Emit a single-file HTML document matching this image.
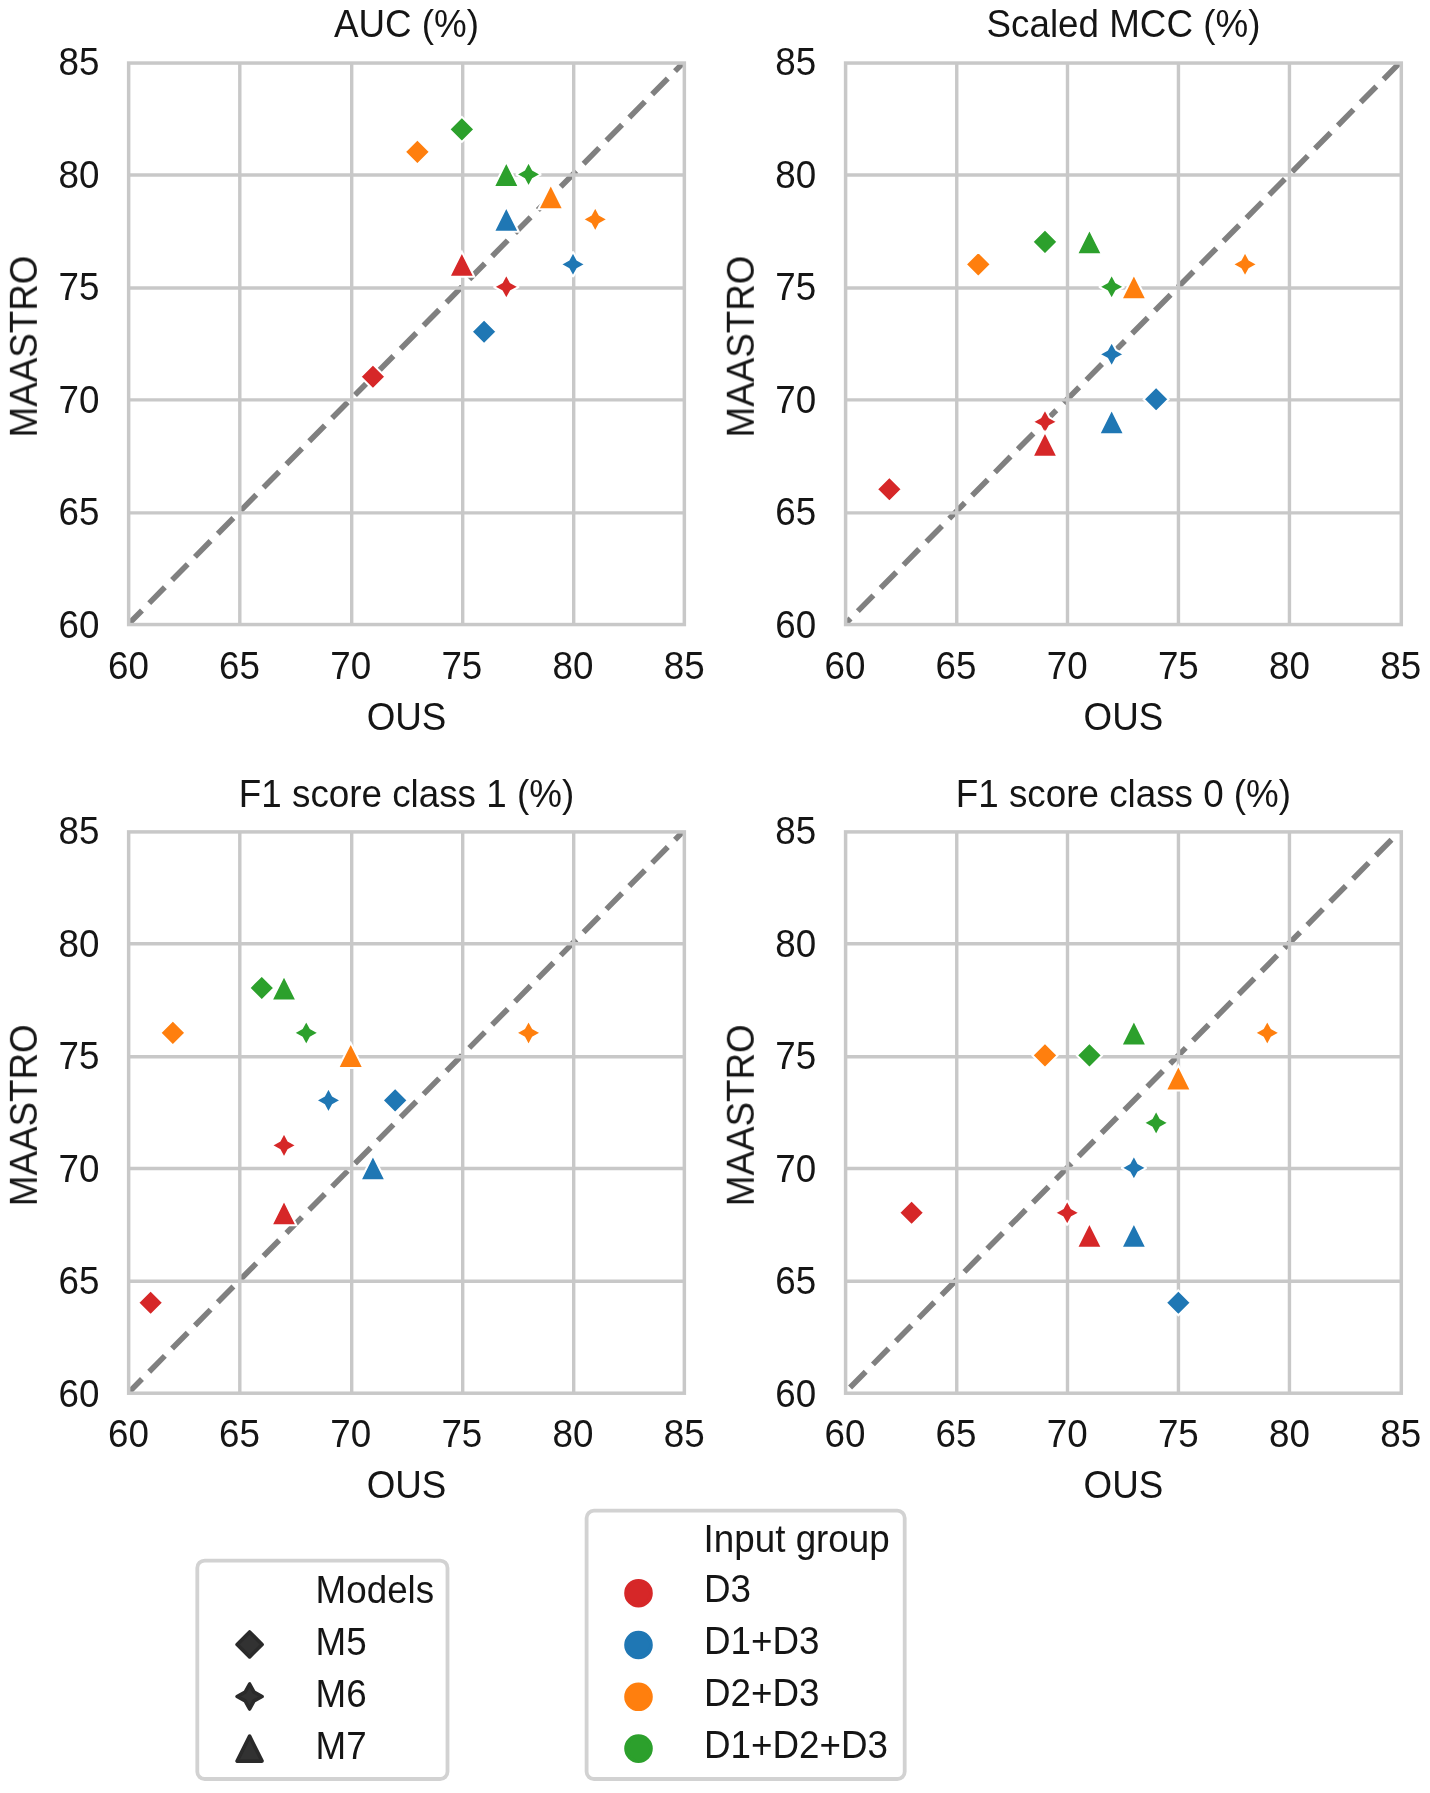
<!DOCTYPE html>
<html><head><meta charset="utf-8"><title>Scatter comparison OUS vs MAASTRO</title><style>html,body{margin:0;padding:0;background:#fff;}svg{display:block;}text{font-family:"Liberation Sans",sans-serif;fill:#151515;font-size:36.80px;}</style></head><body>
<svg width="1430" height="1793" viewBox="0 0 1430 1793">
<defs><filter id="gs" x="0" y="0" width="1" height="1"><feColorMatrix type="saturate" values="0"/></filter></defs>
<rect width="1430" height="1793" fill="#fff"/>
<clipPath id="c0"><rect x="128.65" y="63.05" width="555.70" height="561.50"/></clipPath>
<line clip-path="url(#c0)" x1="103.50" y1="649.37" x2="687.66" y2="58.37" stroke="#808080" stroke-width="5.6" stroke-dasharray="22.2 10.32"/>
<g stroke="#c8c8c8" stroke-width="3.40"><line x1="239.80" y1="63.05" x2="239.80" y2="624.55"/><line x1="128.65" y1="175.00" x2="684.35" y2="175.00"/><line x1="351.70" y1="63.05" x2="351.70" y2="624.55"/><line x1="128.65" y1="287.95" x2="684.35" y2="287.95"/><line x1="462.70" y1="63.05" x2="462.70" y2="624.55"/><line x1="128.65" y1="399.90" x2="684.35" y2="399.90"/><line x1="573.70" y1="63.05" x2="573.70" y2="624.55"/><line x1="128.65" y1="512.85" x2="684.35" y2="512.85"/></g>
<rect x="128.65" y="63.05" width="555.70" height="561.50" fill="none" stroke="#c8c8c8" stroke-width="3.50"/>
<path d="M461.85,116.90 L449.35,129.40 L461.85,141.90 L474.35,129.40Z" fill="#2ca02c" stroke="#fff" stroke-width="2.00" stroke-linejoin="miter"/>
<path d="M417.39,139.39 L404.89,151.89 L417.39,164.39 L429.89,151.89Z" fill="#ff7f0e" stroke="#fff" stroke-width="2.00" stroke-linejoin="miter"/>
<path d="M506.31,161.88 L493.81,186.88 L518.81,186.88Z" fill="#2ca02c" stroke="#fff" stroke-width="2.00" stroke-linejoin="miter"/>
<path d="M528.54,161.88 L524.12,169.96 L516.04,174.38 L524.12,178.80 L528.54,186.88 L532.96,178.80 L541.04,174.38 L532.96,169.96Z" fill="#2ca02c" stroke="#fff" stroke-width="2.00" stroke-linejoin="bevel"/>
<path d="M550.77,184.37 L538.27,209.37 L563.27,209.37Z" fill="#ff7f0e" stroke="#fff" stroke-width="2.00" stroke-linejoin="miter"/>
<path d="M595.23,206.86 L590.81,214.94 L582.73,219.36 L590.81,223.78 L595.23,231.86 L599.65,223.78 L607.73,219.36 L599.65,214.94Z" fill="#ff7f0e" stroke="#fff" stroke-width="2.00" stroke-linejoin="bevel"/>
<path d="M506.31,206.86 L493.81,231.86 L518.81,231.86Z" fill="#1f77b4" stroke="#fff" stroke-width="2.00" stroke-linejoin="miter"/>
<path d="M461.85,251.84 L449.35,276.84 L474.35,276.84Z" fill="#d62728" stroke="#fff" stroke-width="2.00" stroke-linejoin="miter"/>
<path d="M573.00,251.84 L568.58,259.92 L560.50,264.34 L568.58,268.76 L573.00,276.84 L577.42,268.76 L585.50,264.34 L577.42,259.92Z" fill="#1f77b4" stroke="#fff" stroke-width="2.00" stroke-linejoin="bevel"/>
<path d="M506.31,274.33 L501.89,282.41 L493.81,286.83 L501.89,291.25 L506.31,299.33 L510.73,291.25 L518.81,286.83 L510.73,282.41Z" fill="#d62728" stroke="#fff" stroke-width="2.00" stroke-linejoin="bevel"/>
<path d="M484.08,319.31 L471.58,331.81 L484.08,344.31 L496.58,331.81Z" fill="#1f77b4" stroke="#fff" stroke-width="2.00" stroke-linejoin="miter"/>
<path d="M372.93,364.29 L360.43,376.79 L372.93,389.29 L385.43,376.79Z" fill="#d62728" stroke="#fff" stroke-width="2.00" stroke-linejoin="miter"/>
<clipPath id="c1"><rect x="845.60" y="63.05" width="555.70" height="561.50"/></clipPath>
<line clip-path="url(#c1)" x1="812.08" y1="657.39" x2="1404.16" y2="58.37" stroke="#808080" stroke-width="5.6" stroke-dasharray="22.2 10.32"/>
<g stroke="#c8c8c8" stroke-width="3.40"><line x1="956.75" y1="63.05" x2="956.75" y2="624.55"/><line x1="845.60" y1="175.00" x2="1401.30" y2="175.00"/><line x1="1067.50" y1="63.05" x2="1067.50" y2="624.55"/><line x1="845.60" y1="287.95" x2="1401.30" y2="287.95"/><line x1="1178.45" y1="63.05" x2="1178.45" y2="624.55"/><line x1="845.60" y1="399.90" x2="1401.30" y2="399.90"/><line x1="1289.45" y1="63.05" x2="1289.45" y2="624.55"/><line x1="845.60" y1="512.85" x2="1401.30" y2="512.85"/></g>
<rect x="845.60" y="63.05" width="555.70" height="561.50" fill="none" stroke="#c8c8c8" stroke-width="3.50"/>
<path d="M978.28,251.84 L965.78,264.34 L978.28,276.84 L990.78,264.34Z" fill="#ff7f0e" stroke="#fff" stroke-width="2.00" stroke-linejoin="miter"/>
<path d="M1044.97,229.35 L1032.47,241.85 L1044.97,254.35 L1057.47,241.85Z" fill="#2ca02c" stroke="#fff" stroke-width="2.00" stroke-linejoin="miter"/>
<path d="M1089.43,229.35 L1076.93,254.35 L1101.93,254.35Z" fill="#2ca02c" stroke="#fff" stroke-width="2.00" stroke-linejoin="miter"/>
<path d="M1111.66,274.33 L1107.24,282.41 L1099.16,286.83 L1107.24,291.25 L1111.66,299.33 L1116.08,291.25 L1124.16,286.83 L1116.08,282.41Z" fill="#2ca02c" stroke="#fff" stroke-width="2.00" stroke-linejoin="bevel"/>
<path d="M1133.89,274.33 L1121.39,299.33 L1146.39,299.33Z" fill="#ff7f0e" stroke="#fff" stroke-width="2.00" stroke-linejoin="miter"/>
<path d="M1245.04,251.84 L1240.62,259.92 L1232.54,264.34 L1240.62,268.76 L1245.04,276.84 L1249.46,268.76 L1257.54,264.34 L1249.46,259.92Z" fill="#ff7f0e" stroke="#fff" stroke-width="2.00" stroke-linejoin="bevel"/>
<path d="M1111.66,341.80 L1107.24,349.88 L1099.16,354.30 L1107.24,358.72 L1111.66,366.80 L1116.08,358.72 L1124.16,354.30 L1116.08,349.88Z" fill="#1f77b4" stroke="#fff" stroke-width="2.00" stroke-linejoin="bevel"/>
<path d="M1156.12,386.78 L1143.62,399.28 L1156.12,411.78 L1168.62,399.28Z" fill="#1f77b4" stroke="#fff" stroke-width="2.00" stroke-linejoin="miter"/>
<path d="M1111.66,409.27 L1099.16,434.27 L1124.16,434.27Z" fill="#1f77b4" stroke="#fff" stroke-width="2.00" stroke-linejoin="miter"/>
<path d="M1044.97,409.27 L1040.55,417.35 L1032.47,421.77 L1040.55,426.19 L1044.97,434.27 L1049.39,426.19 L1057.47,421.77 L1049.39,417.35Z" fill="#d62728" stroke="#fff" stroke-width="2.00" stroke-linejoin="bevel"/>
<path d="M1044.97,431.76 L1032.47,456.76 L1057.47,456.76Z" fill="#d62728" stroke="#fff" stroke-width="2.00" stroke-linejoin="miter"/>
<path d="M889.36,476.74 L876.86,489.24 L889.36,501.74 L901.86,489.24Z" fill="#d62728" stroke="#fff" stroke-width="2.00" stroke-linejoin="miter"/>
<clipPath id="c2"><rect x="128.65" y="831.90" width="555.70" height="561.30"/></clipPath>
<line clip-path="url(#c2)" x1="103.50" y1="1417.94" x2="687.66" y2="826.94" stroke="#808080" stroke-width="5.6" stroke-dasharray="22.2 10.32"/>
<g stroke="#c8c8c8" stroke-width="3.40"><line x1="239.80" y1="831.90" x2="239.80" y2="1393.20"/><line x1="128.65" y1="943.80" x2="684.35" y2="943.80"/><line x1="351.70" y1="831.90" x2="351.70" y2="1393.20"/><line x1="128.65" y1="1056.80" x2="684.35" y2="1056.80"/><line x1="462.70" y1="831.90" x2="462.70" y2="1393.20"/><line x1="128.65" y1="1168.45" x2="684.35" y2="1168.45"/><line x1="573.70" y1="831.90" x2="573.70" y2="1393.20"/><line x1="128.65" y1="1281.20" x2="684.35" y2="1281.20"/></g>
<rect x="128.65" y="831.90" width="555.70" height="561.30" fill="none" stroke="#c8c8c8" stroke-width="3.50"/>
<path d="M261.78,975.43 L249.28,987.93 L261.78,1000.43 L274.28,987.93Z" fill="#2ca02c" stroke="#fff" stroke-width="2.00" stroke-linejoin="miter"/>
<path d="M284.01,975.43 L271.51,1000.43 L296.51,1000.43Z" fill="#2ca02c" stroke="#fff" stroke-width="2.00" stroke-linejoin="miter"/>
<path d="M172.86,1020.41 L160.36,1032.91 L172.86,1045.41 L185.36,1032.91Z" fill="#ff7f0e" stroke="#fff" stroke-width="2.00" stroke-linejoin="miter"/>
<path d="M306.24,1020.41 L301.82,1028.49 L293.74,1032.91 L301.82,1037.33 L306.24,1045.41 L310.66,1037.33 L318.74,1032.91 L310.66,1028.49Z" fill="#2ca02c" stroke="#fff" stroke-width="2.00" stroke-linejoin="bevel"/>
<path d="M350.70,1042.90 L338.20,1067.90 L363.20,1067.90Z" fill="#ff7f0e" stroke="#fff" stroke-width="2.00" stroke-linejoin="miter"/>
<path d="M528.54,1020.41 L524.12,1028.49 L516.04,1032.91 L524.12,1037.33 L528.54,1045.41 L532.96,1037.33 L541.04,1032.91 L532.96,1028.49Z" fill="#ff7f0e" stroke="#fff" stroke-width="2.00" stroke-linejoin="bevel"/>
<path d="M328.47,1087.88 L324.05,1095.96 L315.97,1100.38 L324.05,1104.80 L328.47,1112.88 L332.89,1104.80 L340.97,1100.38 L332.89,1095.96Z" fill="#1f77b4" stroke="#fff" stroke-width="2.00" stroke-linejoin="bevel"/>
<path d="M395.16,1087.88 L382.66,1100.38 L395.16,1112.88 L407.66,1100.38Z" fill="#1f77b4" stroke="#fff" stroke-width="2.00" stroke-linejoin="miter"/>
<path d="M284.01,1132.86 L279.59,1140.94 L271.51,1145.36 L279.59,1149.78 L284.01,1157.86 L288.43,1149.78 L296.51,1145.36 L288.43,1140.94Z" fill="#d62728" stroke="#fff" stroke-width="2.00" stroke-linejoin="bevel"/>
<path d="M372.93,1155.35 L360.43,1180.35 L385.43,1180.35Z" fill="#1f77b4" stroke="#fff" stroke-width="2.00" stroke-linejoin="miter"/>
<path d="M284.01,1200.33 L271.51,1225.33 L296.51,1225.33Z" fill="#d62728" stroke="#fff" stroke-width="2.00" stroke-linejoin="miter"/>
<path d="M150.63,1290.29 L138.13,1302.79 L150.63,1315.29 L163.13,1302.79Z" fill="#d62728" stroke="#fff" stroke-width="2.00" stroke-linejoin="miter"/>
<clipPath id="c3"><rect x="845.60" y="831.90" width="555.70" height="561.30"/></clipPath>
<line clip-path="url(#c3)" x1="827.24" y1="1410.62" x2="1404.16" y2="826.94" stroke="#808080" stroke-width="5.6" stroke-dasharray="22.2 10.32"/>
<g stroke="#c8c8c8" stroke-width="3.40"><line x1="956.75" y1="831.90" x2="956.75" y2="1393.20"/><line x1="845.60" y1="943.80" x2="1401.30" y2="943.80"/><line x1="1067.50" y1="831.90" x2="1067.50" y2="1393.20"/><line x1="845.60" y1="1056.80" x2="1401.30" y2="1056.80"/><line x1="1178.45" y1="831.90" x2="1178.45" y2="1393.20"/><line x1="845.60" y1="1168.45" x2="1401.30" y2="1168.45"/><line x1="1289.45" y1="831.90" x2="1289.45" y2="1393.20"/><line x1="845.60" y1="1281.20" x2="1401.30" y2="1281.20"/></g>
<rect x="845.60" y="831.90" width="555.70" height="561.30" fill="none" stroke="#c8c8c8" stroke-width="3.50"/>
<path d="M1044.97,1042.90 L1032.47,1055.40 L1044.97,1067.90 L1057.47,1055.40Z" fill="#ff7f0e" stroke="#fff" stroke-width="2.00" stroke-linejoin="miter"/>
<path d="M1089.43,1042.90 L1076.93,1055.40 L1089.43,1067.90 L1101.93,1055.40Z" fill="#2ca02c" stroke="#fff" stroke-width="2.00" stroke-linejoin="miter"/>
<path d="M1133.89,1020.41 L1121.39,1045.41 L1146.39,1045.41Z" fill="#2ca02c" stroke="#fff" stroke-width="2.00" stroke-linejoin="miter"/>
<path d="M1267.27,1020.41 L1262.85,1028.49 L1254.77,1032.91 L1262.85,1037.33 L1267.27,1045.41 L1271.69,1037.33 L1279.77,1032.91 L1271.69,1028.49Z" fill="#ff7f0e" stroke="#fff" stroke-width="2.00" stroke-linejoin="bevel"/>
<path d="M1178.35,1065.39 L1165.85,1090.39 L1190.85,1090.39Z" fill="#ff7f0e" stroke="#fff" stroke-width="2.00" stroke-linejoin="miter"/>
<path d="M1156.12,1110.37 L1151.70,1118.45 L1143.62,1122.87 L1151.70,1127.29 L1156.12,1135.37 L1160.54,1127.29 L1168.62,1122.87 L1160.54,1118.45Z" fill="#2ca02c" stroke="#fff" stroke-width="2.00" stroke-linejoin="bevel"/>
<path d="M1133.89,1155.35 L1129.47,1163.43 L1121.39,1167.85 L1129.47,1172.27 L1133.89,1180.35 L1138.31,1172.27 L1146.39,1167.85 L1138.31,1163.43Z" fill="#1f77b4" stroke="#fff" stroke-width="2.00" stroke-linejoin="bevel"/>
<path d="M911.59,1200.33 L899.09,1212.83 L911.59,1225.33 L924.09,1212.83Z" fill="#d62728" stroke="#fff" stroke-width="2.00" stroke-linejoin="miter"/>
<path d="M1067.20,1200.33 L1062.78,1208.41 L1054.70,1212.83 L1062.78,1217.25 L1067.20,1225.33 L1071.62,1217.25 L1079.70,1212.83 L1071.62,1208.41Z" fill="#d62728" stroke="#fff" stroke-width="2.00" stroke-linejoin="bevel"/>
<path d="M1089.43,1222.82 L1076.93,1247.82 L1101.93,1247.82Z" fill="#d62728" stroke="#fff" stroke-width="2.00" stroke-linejoin="miter"/>
<path d="M1133.89,1222.82 L1121.39,1247.82 L1146.39,1247.82Z" fill="#1f77b4" stroke="#fff" stroke-width="2.00" stroke-linejoin="miter"/>
<path d="M1178.35,1290.29 L1165.85,1302.79 L1178.35,1315.29 L1190.85,1302.79Z" fill="#1f77b4" stroke="#fff" stroke-width="2.00" stroke-linejoin="miter"/>
<rect x="197.30" y="1560.55" width="250.20" height="218.45" rx="7.36" ry="7.36" fill="#fff" stroke="#d2d2d2" stroke-width="3.8"/>
<rect x="586.60" y="1510.70" width="318.10" height="268.30" rx="7.36" ry="7.36" fill="#fff" stroke="#d2d2d2" stroke-width="3.8"/>
<path d="M249.60,1631.90 L237.10,1644.40 L249.60,1656.90 L262.10,1644.40Z" fill="#323232" stroke="#2a2a2a" stroke-width="3.6" stroke-linejoin="round"/>
<path d="M249.60,1684.00 L245.18,1692.08 L237.10,1696.50 L245.18,1700.92 L249.60,1709.00 L254.02,1700.92 L262.10,1696.50 L254.02,1692.08Z" fill="#323232" stroke="#2a2a2a" stroke-width="3.6" stroke-linejoin="round"/>
<path d="M249.60,1736.10 L237.10,1761.10 L262.10,1761.10Z" fill="#323232" stroke="#2a2a2a" stroke-width="3.6" stroke-linejoin="round"/>
<circle cx="638.5" cy="1593.20" r="12.50" fill="#d62728" stroke="#d62728" stroke-width="3.6"/>
<circle cx="638.5" cy="1645.00" r="12.50" fill="#1f77b4" stroke="#1f77b4" stroke-width="3.6"/>
<circle cx="638.5" cy="1696.80" r="12.50" fill="#ff7f0e" stroke="#ff7f0e" stroke-width="3.6"/>
<circle cx="638.5" cy="1748.60" r="12.50" fill="#2ca02c" stroke="#2ca02c" stroke-width="3.6"/>
<g filter="url(#gs)"><text transform="translate(128.40,678.55) scale(1,1.035)" text-anchor="middle">60</text>
<text transform="translate(99.35,637.81) scale(1,1.035)" text-anchor="end">60</text>
<text transform="translate(239.55,678.55) scale(1,1.035)" text-anchor="middle">65</text>
<text transform="translate(99.35,525.23) scale(1,1.035)" text-anchor="end">65</text>
<text transform="translate(350.70,678.55) scale(1,1.035)" text-anchor="middle">70</text>
<text transform="translate(99.35,412.66) scale(1,1.035)" text-anchor="end">70</text>
<text transform="translate(461.85,678.55) scale(1,1.035)" text-anchor="middle">75</text>
<text transform="translate(99.35,300.08) scale(1,1.035)" text-anchor="end">75</text>
<text transform="translate(573.00,678.55) scale(1,1.035)" text-anchor="middle">80</text>
<text transform="translate(99.35,187.50) scale(1,1.035)" text-anchor="end">80</text>
<text transform="translate(684.15,678.55) scale(1,1.035)" text-anchor="middle">85</text>
<text transform="translate(99.35,74.93) scale(1,1.035)" text-anchor="end">85</text>
<text transform="translate(406.50,36.80) scale(1,1.035)" text-anchor="middle">AUC (%)</text>
<text transform="translate(406.50,729.65) scale(1,1.035)" text-anchor="middle">OUS</text>
<text transform="translate(37.05,346.50) rotate(-90) scale(1,1.035)" text-anchor="middle">MAASTRO</text>
<text transform="translate(844.90,678.55) scale(1,1.035)" text-anchor="middle">60</text>
<text transform="translate(816.30,637.81) scale(1,1.035)" text-anchor="end">60</text>
<text transform="translate(956.05,678.55) scale(1,1.035)" text-anchor="middle">65</text>
<text transform="translate(816.30,525.23) scale(1,1.035)" text-anchor="end">65</text>
<text transform="translate(1067.20,678.55) scale(1,1.035)" text-anchor="middle">70</text>
<text transform="translate(816.30,412.66) scale(1,1.035)" text-anchor="end">70</text>
<text transform="translate(1178.35,678.55) scale(1,1.035)" text-anchor="middle">75</text>
<text transform="translate(816.30,300.08) scale(1,1.035)" text-anchor="end">75</text>
<text transform="translate(1289.50,678.55) scale(1,1.035)" text-anchor="middle">80</text>
<text transform="translate(816.30,187.50) scale(1,1.035)" text-anchor="end">80</text>
<text transform="translate(1400.65,678.55) scale(1,1.035)" text-anchor="middle">85</text>
<text transform="translate(816.30,74.93) scale(1,1.035)" text-anchor="end">85</text>
<text transform="translate(1123.45,36.80) scale(1,1.035)" text-anchor="middle">Scaled MCC (%)</text>
<text transform="translate(1123.45,729.65) scale(1,1.035)" text-anchor="middle">OUS</text>
<text transform="translate(754.00,346.50) rotate(-90) scale(1,1.035)" text-anchor="middle">MAASTRO</text>
<text transform="translate(128.40,1447.20) scale(1,1.035)" text-anchor="middle">60</text>
<text transform="translate(99.35,1406.80) scale(1,1.035)" text-anchor="end">60</text>
<text transform="translate(239.55,1447.20) scale(1,1.035)" text-anchor="middle">65</text>
<text transform="translate(99.35,1294.23) scale(1,1.035)" text-anchor="end">65</text>
<text transform="translate(350.70,1447.20) scale(1,1.035)" text-anchor="middle">70</text>
<text transform="translate(99.35,1181.65) scale(1,1.035)" text-anchor="end">70</text>
<text transform="translate(461.85,1447.20) scale(1,1.035)" text-anchor="middle">75</text>
<text transform="translate(99.35,1069.08) scale(1,1.035)" text-anchor="end">75</text>
<text transform="translate(573.00,1447.20) scale(1,1.035)" text-anchor="middle">80</text>
<text transform="translate(99.35,956.50) scale(1,1.035)" text-anchor="end">80</text>
<text transform="translate(684.15,1447.20) scale(1,1.035)" text-anchor="middle">85</text>
<text transform="translate(99.35,843.93) scale(1,1.035)" text-anchor="end">85</text>
<text transform="translate(406.50,807.00) scale(1,1.035)" text-anchor="middle">F1 score class 1 (%)</text>
<text transform="translate(406.50,1498.30) scale(1,1.035)" text-anchor="middle">OUS</text>
<text transform="translate(37.05,1115.25) rotate(-90) scale(1,1.035)" text-anchor="middle">MAASTRO</text>
<text transform="translate(844.90,1447.20) scale(1,1.035)" text-anchor="middle">60</text>
<text transform="translate(816.30,1406.80) scale(1,1.035)" text-anchor="end">60</text>
<text transform="translate(956.05,1447.20) scale(1,1.035)" text-anchor="middle">65</text>
<text transform="translate(816.30,1294.23) scale(1,1.035)" text-anchor="end">65</text>
<text transform="translate(1067.20,1447.20) scale(1,1.035)" text-anchor="middle">70</text>
<text transform="translate(816.30,1181.65) scale(1,1.035)" text-anchor="end">70</text>
<text transform="translate(1178.35,1447.20) scale(1,1.035)" text-anchor="middle">75</text>
<text transform="translate(816.30,1069.08) scale(1,1.035)" text-anchor="end">75</text>
<text transform="translate(1289.50,1447.20) scale(1,1.035)" text-anchor="middle">80</text>
<text transform="translate(816.30,956.50) scale(1,1.035)" text-anchor="end">80</text>
<text transform="translate(1400.65,1447.20) scale(1,1.035)" text-anchor="middle">85</text>
<text transform="translate(816.30,843.93) scale(1,1.035)" text-anchor="end">85</text>
<text transform="translate(1123.45,807.00) scale(1,1.035)" text-anchor="middle">F1 score class 0 (%)</text>
<text transform="translate(1123.45,1498.30) scale(1,1.035)" text-anchor="middle">OUS</text>
<text transform="translate(754.00,1115.25) rotate(-90) scale(1,1.035)" text-anchor="middle">MAASTRO</text>
<text transform="translate(315.58,1602.50) scale(1,1.035)">Models</text>
<text transform="translate(315.58,1654.60) scale(1,1.035)">M5</text>
<text transform="translate(315.58,1706.70) scale(1,1.035)">M6</text>
<text transform="translate(315.58,1758.80) scale(1,1.035)">M7</text>
<text transform="translate(703.60,1552.20) scale(1,1.035)">Input group</text>
<text transform="translate(703.98,1602.10) scale(1,1.035)">D3</text>
<text transform="translate(703.98,1654.20) scale(1,1.035)">D1+D3</text>
<text transform="translate(703.98,1706.30) scale(1,1.035)">D2+D3</text>
<text transform="translate(703.98,1758.40) scale(1,1.035)">D1+D2+D3</text></g>
</svg></body></html>
